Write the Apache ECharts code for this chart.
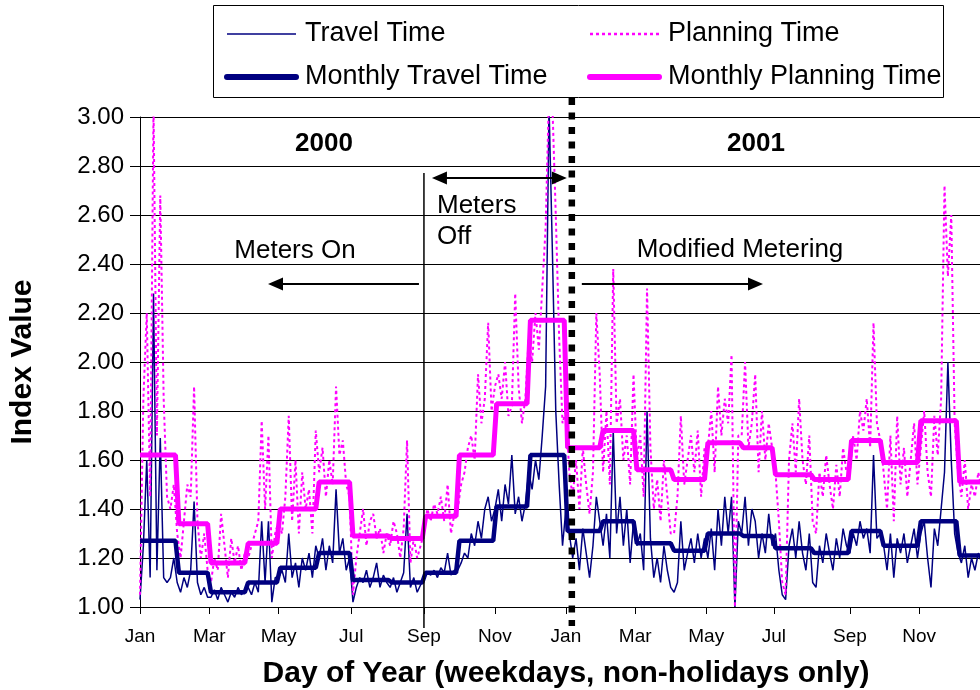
<!DOCTYPE html>
<html><head><meta charset="utf-8">
<script src="https://cdn.jsdelivr.net/npm/echarts@6/dist/echarts.min.js"></script>
<style>html,body{margin:0;padding:0;background:#fff}#c{width:980px;height:690px}</style>
</head><body><div id="c"></div>
<script>
// ---------- DATA ----------
// x = weekday index (non-holiday weekdays since Jan 1 2000); daily series sampled every 2 weekdays
const dayStep = 2;
const travelTime = [
// Jan 2000
1.03,1.25,1.60,1.12,2.28,1.15,1.69,1.12,1.10,1.12,1.20,
// Feb
1.10,1.06,1.12,1.08,1.15,1.43,1.10,1.05,1.08,1.04,
// Mar
1.04,1.07,1.03,1.08,1.05,1.02,1.06,1.04,1.08,1.05,1.07,
// Apr
1.08,1.05,1.10,1.06,1.35,1.10,1.35,1.02,1.12,
// May
1.12,1.15,1.10,1.30,1.12,1.18,1.08,1.20,1.15,1.22,1.12,1.25,
// Jun
1.20,1.28,1.15,1.25,1.18,1.48,1.22,1.28,1.15,1.20,
// Jul
1.02,1.08,1.12,1.10,1.15,1.08,1.12,1.18,1.08,1.13,1.10,
// Aug
1.08,1.12,1.06,1.10,1.14,1.38,1.08,1.12,1.06,1.09,
// Sep
1.12,1.14,1.13,1.15,1.12,1.16,1.14,1.22,1.13,1.15,
// Oct
1.15,1.18,1.22,1.20,1.30,1.25,1.35,1.28,1.40,1.45,1.35,
// Nov
1.40,1.48,1.35,1.50,1.42,1.62,1.38,1.45,1.35,1.42,
// Dec
1.55,1.48,1.60,1.52,1.70,1.90,3.05,2.45,1.80,1.50,1.25,
// Jan 2001
1.40,1.30,1.20,1.28,1.15,1.32,1.22,1.12,1.25,1.45,1.35,
// Feb
1.25,1.38,1.20,1.72,1.30,1.45,1.25,1.40,1.18,1.35,
// Mar
1.25,1.30,1.15,1.80,1.28,1.12,1.20,1.10,1.25,1.15,1.08,
// Apr
1.06,1.10,1.35,1.15,1.22,1.28,1.18,1.30,1.20,1.28,
// May
1.20,1.32,1.15,1.40,1.25,1.45,1.30,1.45,1.00,1.35,
// Jun
1.30,1.45,1.25,1.40,1.35,1.20,1.30,1.22,1.38,1.25,
// Jul
1.30,1.15,1.05,1.03,1.25,1.32,1.20,1.35,1.22,1.15,1.30,
// Aug
1.10,1.08,1.25,1.18,1.30,1.22,1.15,1.28,1.20,1.32,1.25,
// Sep
1.22,1.30,1.25,1.35,1.28,1.32,1.22,1.62,1.28,1.30,
// Oct
1.25,1.15,1.30,1.12,1.28,1.22,1.30,1.18,1.25,1.32,1.20,
// Nov
1.30,1.35,1.20,1.08,1.32,1.25,1.40,1.55,2.00,1.60,1.30,
// Dec
1.22,1.18,1.25,1.12,1.20,1.15,1.22,1.18,1.25,1.15,1.20
];
const planningTime = [
// Jan 2000
1.05,1.85,2.20,1.45,3.05,1.70,2.68,1.85,1.45,1.40,1.50,
// Feb
1.30,1.20,1.35,1.50,1.45,1.90,1.35,1.20,1.30,1.15,
// Mar
1.10,1.20,1.15,1.38,1.25,1.12,1.28,1.18,1.25,1.15,1.22,
// Apr
1.20,1.25,1.30,1.35,1.76,1.40,1.70,1.20,1.30,
// May
1.35,1.30,1.45,1.78,1.35,1.60,1.30,1.55,1.40,1.48,1.30,1.72,
// Jun
1.55,1.65,1.45,1.60,1.50,1.90,1.62,1.68,1.50,1.45,
// Jul
1.05,1.20,1.30,1.40,1.25,1.35,1.38,1.28,1.32,1.22,1.30,
// Aug
1.25,1.35,1.30,1.20,1.32,1.68,1.18,1.28,1.20,1.25,
// Sep
1.30,1.40,1.35,1.42,1.38,1.45,1.35,1.50,1.30,1.38,
// Oct
1.40,1.50,1.55,1.65,1.70,1.60,1.95,1.75,1.85,2.16,1.80,
// Nov
1.90,1.95,1.85,2.00,1.78,1.82,2.28,1.90,1.75,1.85,
// Dec
2.10,2.00,2.20,2.05,2.30,2.55,3.10,3.05,2.60,2.10,1.75,
// Jan 2001
1.80,1.55,1.45,1.60,1.40,1.65,1.50,1.38,1.55,2.20,1.95,
// Feb
1.55,1.80,1.50,2.38,1.75,1.85,1.60,1.70,1.50,1.95,
// Mar
1.60,1.70,1.45,2.30,1.65,1.40,1.52,1.35,1.60,1.45,1.30,
// Apr
1.30,1.45,1.78,1.50,1.60,1.70,1.55,1.72,1.45,1.65,
// May
1.65,1.80,1.55,1.90,1.70,1.85,1.75,2.03,1.00,1.70,
// Jun
1.70,2.00,1.65,1.75,1.95,1.55,1.80,1.60,1.75,1.65,
// Jul
1.55,1.35,1.10,1.05,1.60,1.75,1.55,1.85,1.60,1.50,1.70,
// Aug
1.35,1.30,1.55,1.45,1.62,1.50,1.40,1.58,1.45,1.65,1.55,
// Sep
1.55,1.70,1.60,1.80,1.72,1.85,1.65,2.16,1.75,1.68,
// Oct
1.55,1.40,1.70,1.35,1.78,1.50,1.65,1.45,1.60,1.75,1.50,
// Nov
1.65,1.80,1.55,1.45,1.78,1.62,1.85,2.72,2.35,2.60,1.75,
// Dec
1.55,1.45,1.60,1.40,1.50,1.45,1.55,1.48,1.58,1.42,1.50
];
// month start boundaries (weekday index), Jan 2000 .. Jan 2002
const monthBounds = [0,22,41,63,82,105,125,148,168,188,210,230,252,273,293,315,335,356,375,398,420,439,461,484,506];
const monthlyTravel = [1.27,1.14,1.06,1.10,1.16,1.22,1.11,1.10,1.14,1.27,1.41,1.62,
                       1.31,1.35,1.26,1.23,1.30,1.29,1.24,1.22,1.31,1.25,1.35,1.21];
const monthlyPlanning = [1.62,1.34,1.18,1.26,1.40,1.51,1.29,1.28,1.37,1.62,1.83,2.17,
                         1.65,1.72,1.56,1.52,1.67,1.65,1.54,1.52,1.68,1.59,1.76,1.51];
const tickLabels = ['Jan','Mar','May','Jul','Sep','Nov','Jan','Mar','May','Jul','Sep','Nov'];
const meterOffDay = 168;      // Sep 2000
const modifiedDay = 255.5;    // start of 2001
const yearLabels = ['2000','2001'];

// ---------- BUILD ----------
const FONT = "'Liberation Sans', Arial, sans-serif";
const NAVY = '#000080', MAG = '#FF00FF';
const tickDays = monthBounds.filter((d, i) => i % 2 === 0 && i < 24);
const labelMap = {}; tickDays.forEach((d, i) => labelMap[d] = tickLabels[i]);
const daily = arr => arr.map((v, i) => [i * dayStep, v]);
function steps(vals) {
  const out = [];
  vals.forEach((v, i) => {
    out.push([monthBounds[i] + (i > 0 ? 1 : 0), v]);
    out.push([monthBounds[i + 1] - 1, v]);
  });
  return out;
}

const legendCommon = {
  orient: 'vertical', top: 19, padding: 0, itemWidth: 69, itemHeight: 14, itemGap: 13,
  itemStyle: {opacity: 0, borderWidth: 0},
  textStyle: {fontSize: 27, color: '#000', lineHeight: 30, fontFamily: FONT, padding: [0, 0, 0, 4]}
};

const chart = echarts.init(document.getElementById('c'), null, {renderer: 'canvas'});
const option = {
  animation: false,
  backgroundColor: '#fff',
  textStyle: {fontFamily: FONT},
  grid: {left: 140, right: 0, top: 117, bottom: 83, containLabel: false, outerBoundsMode: 'none'},
  legend: [
    Object.assign({}, legendCommon, {left: 224, data: [
      {name: 'Travel Time', lineStyle: {width: 1.5}},
      {name: 'Monthly Travel Time', lineStyle: {width: 6, cap: 'round'}}]}),
    Object.assign({}, legendCommon, {left: 587, data: [
      {name: 'Planning Time', lineStyle: {width: 2.5, type: [3, 3]}},
      {name: 'Monthly Planning Time', lineStyle: {width: 6, cap: 'round'}}]})
  ],
  xAxis: {
    type: 'value', min: 0, max: 497,
    axisLine: {show: true, onZero: false, lineStyle: {color: '#000', width: 1}},
    axisTick: {show: true, customValues: tickDays, length: 7, lineStyle: {color: '#000'}},
    axisLabel: {customValues: tickDays, formatter: v => labelMap[v] || '', fontSize: 19, color: '#000', margin: 20, fontFamily: FONT},
    splitLine: {show: false},
    name: 'Day of Year (weekdays, non-holidays only)', nameLocation: 'middle', nameGap: 52,
    nameTextStyle: {fontSize: 30, fontWeight: 'bold', color: '#000', fontFamily: FONT, padding: [0, 0, 0, 12]}
  },
  yAxis: {
    type: 'value', min: 1, max: 3, interval: 0.2,
    axisLine: {show: true, lineStyle: {color: '#000', width: 1}},
    axisTick: {show: true, length: 10, lineStyle: {color: '#000'}},
    axisLabel: {formatter: v => v.toFixed(2), fontSize: 24, color: '#000', margin: 16, fontFamily: FONT},
    splitLine: {show: true, lineStyle: {color: '#000', width: 1}},
    name: 'Index Value', nameLocation: 'middle', nameGap: 102, nameRotate: 90,
    nameTextStyle: {fontSize: 30, fontWeight: 'bold', color: '#000', fontFamily: FONT}
  },
  series: [
    {name: 'Travel Time', type: 'line', data: daily(travelTime), symbol: 'none',
     lineStyle: {color: NAVY, width: 1.5}, itemStyle: {color: NAVY}, z: 2},
    {name: 'Planning Time', type: 'line', data: daily(planningTime), symbol: 'none',
     lineStyle: {color: MAG, width: 2, type: [3, 3]}, itemStyle: {color: MAG}, z: 2},
    {name: 'Monthly Travel Time', type: 'line', data: steps(monthlyTravel), symbol: 'none',
     lineStyle: {color: NAVY, width: 4.5}, itemStyle: {color: NAVY}, z: 3},
    {name: 'Monthly Planning Time', type: 'line', data: steps(monthlyPlanning), symbol: 'none',
     lineStyle: {color: MAG, width: 5}, itemStyle: {color: MAG}, z: 4}
  ]
};
chart.setOption(option);

const xSep = chart.convertToPixel({xAxisIndex: 0}, meterOffDay);
const xMod = chart.convertToPixel({xAxisIndex: 0}, modifiedDay);
function txt(t, x, y, size, bold, align) {
  return {type: 'text', x: x, y: y, z: 10,
    style: {text: t, fill: '#000', fontSize: size, fontWeight: bold ? 'bold' : 'normal', fontFamily: FONT,
            align: align || 'center', verticalAlign: 'middle'}};
}
function hline(x1, x2, y) {
  return {type: 'line', z: 10, shape: {x1: x1, y1: y, x2: x2, y2: y}, style: {stroke: '#000', lineWidth: 2}};
}
function head(tipX, y, dir) { // dir -1 pointing left, +1 pointing right
  const L = 15, W = 6.5;
  return {type: 'polygon', z: 10, shape: {points: [[tipX, y], [tipX - dir * L, y - W], [tipX - dir * L, y + W]]},
          style: {fill: '#000'}};
}
const g = [
  {type: 'rect', z: 10, shape: {x: 213.5, y: 5.5, width: 730, height: 92}, style: {fill: 'none', stroke: '#000', lineWidth: 1}},
  {type: 'line', z: 10, shape: {x1: xSep, y1: 173, x2: xSep, y2: 628}, style: {stroke: '#000', lineWidth: 1.5}},
  {type: 'line', z: 10, shape: {x1: xMod, y1: 98, x2: xMod, y2: 626}, style: {stroke: '#000', lineWidth: 6.5, lineDash: [7, 7.5]}},
  txt(yearLabels[0], 324, 144, 26, true),
  txt(yearLabels[1], 756, 144, 26, true),
  txt('Meters On', 295, 251, 26, false),
  txt('Meters', 437, 206, 26, false, 'left'),
  txt('Off', 437, 237, 26, false, 'left'),
  txt('Modified Metering', 740, 250, 26, false),
  hline(xSep - 5, 275, 284), head(268, 284, -1),
  hline(xSep + 14, xMod - 11, 178), head(xSep + 8, 178, -1), head(xMod - 5, 178, 1),
  hline(xMod + 10, 755, 284), head(763, 284, 1)
];
chart.setOption({graphic: g});
</script>
</body></html>
